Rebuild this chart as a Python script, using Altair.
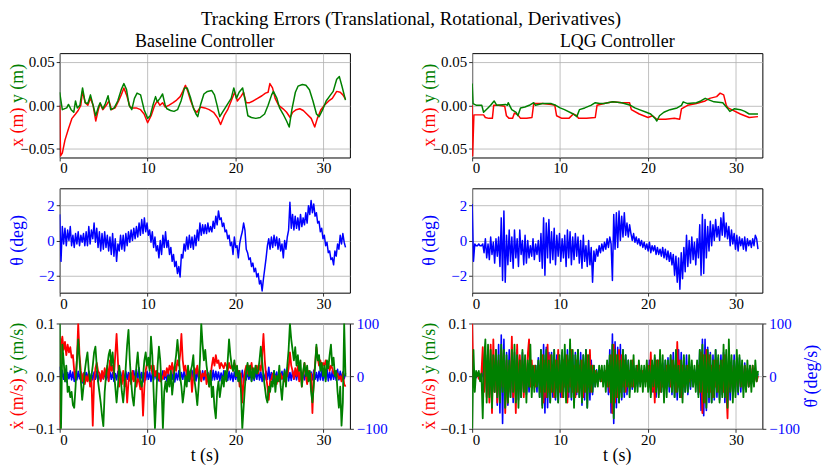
import altair as alt
import numpy as np
import pandas as pd

# ---------------- data ----------------
# Top row: (t [s], error [m])
XB = [(0,0.0),(0.1,-0.058),(0.3,-0.055),(0.6,-0.04),(1.0,-0.027),(1.4,-0.015),(1.8,-0.01),(2.1,-0.006),
      (2.4,0.0),(2.6,0.016),(2.9,0.003),(3.2,0.0),(3.5,0.008),(3.8,0.0),(4.1,-0.018),(4.4,-0.005),(4.6,0.002),
      (4.9,-0.005),(5.3,0.0),(5.6,0.005),(5.9,-0.005),(6.3,-0.003),(6.7,0.005),(7.0,0.012),(7.3,0.02),(7.6,0.012),
      (8.0,-0.002),(8.3,-0.003),(8.7,-0.003),(9.2,-0.005),(9.6,-0.01),(10.0,-0.02),(10.4,-0.012),(10.8,0.0),
      (11.1,0.005),(11.4,0.0),(11.7,0.003),(12.0,-0.002),(12.4,0.0),(12.9,0.003),(13.3,0.006),(13.7,0.01),
      (14.0,0.016),(14.3,0.023),(14.6,0.015),(14.9,0.005),(15.3,-0.005),(15.6,-0.008),(16.0,-0.002),(16.5,-0.003),
      (17.0,-0.005),(17.5,-0.008),(18.0,-0.015),(18.3,-0.022),(18.7,-0.012),(19.1,-0.005),(19.5,0.005),(19.9,0.015),
      (20.2,0.005),(20.6,0.01),(20.9,0.015),(21.2,0.003),(21.6,0.003),(22.0,0.005),(22.5,0.008),(23.0,0.011),
      (23.4,0.014),(23.7,0.015),(23.9,0.025),(24.2,0.02),(24.5,0.008),(24.9,0.0),(25.4,-0.004),(25.8,-0.008),
      (26.2,-0.014),(26.5,-0.008),(26.9,-0.005),(27.3,-0.004),(27.7,-0.006),(28.1,-0.01),(28.6,-0.015),(29.0,-0.025),
      (29.3,-0.015),(29.7,-0.005),(30.1,0.0),(30.6,0.005),(31.0,0.008),(31.5,0.016),(31.9,0.015),(32.2,0.012),(32.5,0.007)]
YB = [(0,0.015),(0.3,-0.005),(0.8,-0.003),(1.0,0.001),(1.3,-0.005),(1.6,-0.008),(1.8,0.005),(2.0,-0.003),(2.3,0.0),
      (2.6,0.02),(2.9,0.003),(3.2,0.002),(3.5,0.012),(3.8,0.0),(4.1,-0.012),(4.4,-0.002),(4.6,0.003),(4.9,-0.004),
      (5.2,0.002),(5.5,0.011),(5.8,-0.005),(6.2,-0.003),(6.6,0.005),(7.0,0.018),(7.3,0.025),(7.6,0.018),(7.9,0.0),
      (8.2,-0.005),(8.5,0.008),(8.8,0.014),(9.2,0.012),(9.6,-0.005),(10.0,-0.015),(10.3,-0.012),(10.6,0.0),(10.9,0.01),
      (11.1,0.004),(11.4,0.008),(11.7,0.013),(12.0,0.0),(12.2,-0.004),(12.6,-0.006),(13.0,-0.007),(13.4,-0.005),
      (13.8,0.005),(14.2,0.02),(14.5,0.02),(14.9,0.008),(15.2,-0.003),(15.5,-0.01),(15.7,-0.013),(16.0,0.0),(16.4,0.013),
      (16.8,0.016),(17.3,0.017),(17.6,0.012),(17.9,0.0),(18.2,-0.013),(18.5,-0.008),(19.0,0.0),(19.5,0.008),(19.8,0.02),
      (20.1,0.008),(20.4,0.015),(20.8,0.02),(21.1,0.005),(21.4,-0.012),(21.8,-0.014),(22.3,-0.015),(22.8,-0.014),
      (23.3,-0.01),(23.7,0.0),(24.1,0.012),(24.3,0.016),(24.7,0.008),(25.0,-0.003),(25.4,-0.01),(25.8,-0.018),
      (26.1,-0.025),(26.4,-0.005),(26.8,0.015),(27.1,0.022),(27.6,0.024),(28.0,0.023),(28.4,0.018),(28.8,0.005),
      (29.2,-0.01),(29.5,-0.013),(29.9,-0.005),(30.3,0.005),(30.8,0.012),(31.1,0.016),(31.5,0.03),(31.8,0.033),
      (32.1,0.022),(32.5,0.006)]
XL = [(0,0.0),(0.05,-0.058),(0.2,-0.011),(0.8,-0.011),(1.3,-0.011),(1.5,-0.014),(1.9,-0.015),(2.3,-0.015),(2.45,0.0),
      (3.0,0.0),(3.7,-0.001),(3.9,-0.012),(4.2,-0.015),(4.6,-0.015),(4.8,-0.009),(5.2,-0.011),(5.5,-0.015),(6.2,-0.015),
      (6.8,-0.014),(7.0,0.002),(8.0,0.002),(9.0,0.001),(9.4,0.0),(9.6,-0.012),(10.2,-0.015),(11.0,-0.015),(11.5,-0.01),
      (11.9,-0.012),(12.1,-0.015),(13.0,-0.015),(14.0,-0.014),(14.2,0.0),(15.0,0.002),(16.0,0.004),(17.0,0.003),
      (17.9,0.003),(18.1,-0.005),(19.0,-0.01),(20.0,-0.014),(20.5,-0.012),(21.0,-0.016),(22.0,-0.016),(23.0,-0.015),
      (23.6,-0.016),(23.8,-0.004),(24.5,0.0),(25.5,0.002),(26.5,0.005),(27.0,0.008),(27.8,0.01),(28.2,0.014),
      (28.6,0.012),(28.9,0.0),(29.1,-0.003),(29.5,-0.005),(30.5,-0.01),(31.5,-0.014),(32.5,-0.013)]
YL = [(0,0.025),(0.1,0.002),(0.5,0.0),(1.1,0.0),(1.3,-0.008),(1.8,-0.003),(2.1,0.0),(2.5,0.005),(2.8,0.0),(3.8,0.001),
      (4.0,0.0),(4.1,0.003),(4.5,-0.005),(5.0,-0.008),(5.2,-0.012),(5.5,-0.003),(6.0,-0.002),(6.5,0.0),(7.0,0.003),
      (7.2,0.0),(8.0,0.002),(9.0,0.002),(9.5,0.0),(10.0,-0.003),(10.5,-0.005),(11.5,-0.01),(11.9,-0.013),(12.2,-0.005),
      (12.8,-0.003),(13.5,0.0),(14.0,0.003),(14.5,0.002),(15.0,0.002),(16.0,0.004),(17.0,0.003),(18.0,0.0),
      (18.5,-0.003),(19.0,-0.005),(19.8,-0.008),(20.3,-0.01),(20.8,-0.015),(21.0,-0.018),(21.3,-0.012),(21.8,-0.008),
      (22.5,-0.005),(23.3,-0.003),(23.8,0.0),(24.0,0.004),(24.5,0.002),(25.5,0.003),(26.0,0.005),(26.5,0.008),
      (27.0,0.006),(27.5,0.004),(28.5,0.003),(29.0,-0.003),(29.3,-0.007),(29.8,-0.004),(30.5,-0.005),(31.0,-0.007),
      (31.5,-0.01),(32.5,-0.01)]

# Middle row: theta error [deg], sampled evenly over 0..32.5 s
THB = [1.5,-1.2,0.8,-0.2,0.7,-0.3,0.6,0.0,0.8,-0.3,
       0.3,-0.4,0.4,-0.2,0.5,-0.3,0.3,-0.1,0.4,-0.3,
       0.5,-0.3,0.8,-0.2,0.6,0.1,1.0,-0.1,0.7,-0.4,
       0.5,-0.6,0.4,-0.5,0.5,-0.4,0.3,-0.6,0.2,-0.8,
       0.4,-0.9,0.1,-1.2,-0.2,-0.6,0.3,-0.5,0.3,-0.6,
       0.4,-0.3,0.5,-0.1,0.6,0.0,0.7,0.1,0.8,0.2,
       1.0,0.3,1.2,0.4,1.3,0.5,1.0,0.3,0.6,-0.1,
       0.5,-0.4,0.2,-0.6,-0.3,-1.0,0.0,-0.8,0.3,-0.4,
       0.5,-0.4,0.0,-0.8,-0.4,-1.2,-0.8,-1.5,-1.2,-1.9,
       -1.5,-2.1,-0.8,-1.0,-0.2,-0.6,0.2,-0.5,0.3,-0.4,
       0.2,-0.5,0.3,-0.3,0.6,0.0,1.0,0.3,0.9,0.4,
       0.9,0.4,1.0,0.5,0.8,0.5,1.1,0.7,1.4,0.9,
       1.7,1.2,1.3,0.8,1.0,0.5,0.6,0.1,0.3,-0.3,
       -0.1,-0.8,0.2,-0.4,-0.3,-1.0,-0.2,0.2,0.5,1.0,
       0.6,-0.5,-0.7,-1.1,-1.0,-1.5,-1.3,-1.8,-1.6,-2.1,
       -1.9,-2.5,-2.3,-2.9,-2.2,-1.6,-1.0,-0.3,0.1,-0.5,
       0.2,-0.4,0.3,-0.3,0.2,-0.5,0.1,-0.6,-0.2,-1.0,
       0.0,-0.5,0.2,0.6,2.2,0.7,1.5,0.6,1.4,0.7,
       1.3,0.6,1.5,0.8,1.3,0.9,1.6,1.0,2.0,1.5,
       2.3,1.6,2.1,1.4,1.6,1.0,1.1,0.5,0.7,0.1,
       0.3,-0.3,-0.1,-0.7,-0.6,-1.1,-1.0,-1.4,-0.6,-0.9,
       -0.2,-0.5,0.3,-0.2,0.4,-0.1,-0.4]
THL = [2.1,-1.2,-0.2,-0.3,-0.3,-0.2,-0.3,-0.3,-0.2,-0.7,
       0.1,-1.0,-0.2,-1.1,0.2,-0.8,-0.1,-1.3,0.1,-0.9,
       0.2,-1.5,1.3,-2.3,1.7,-2.4,0.3,-1.4,0.6,-1.2,
       0.2,-1.6,0.6,-1.0,0.1,-1.5,0.6,-0.8,0.0,-1.4,
       0.3,-1.3,0.0,-1.0,-0.3,-0.9,0.1,-1.1,-0.2,-0.8,
       0.0,-1.2,0.4,-1.6,1.3,-2.0,1.0,-1.0,1.2,-1.3,
       0.5,-1.1,0.7,-1.4,0.3,-0.9,0.4,-1.2,0.1,-1.0,
       0.3,-1.5,0.6,-1.0,0.5,-1.4,0.2,-1.1,0.4,-0.9,
       0.2,-1.3,0.0,-1.6,0.3,-1.2,-0.3,-1.5,0.0,-1.4,
       -0.4,-2.4,-0.6,-1.2,-0.5,-0.9,-0.3,-0.7,-0.2,-0.6,
       -0.1,-0.5,0.1,-0.4,0.2,-0.2,-2.3,1.5,-0.5,1.6,
       -0.4,1.7,0.0,1.4,0.2,1.6,0.3,1.0,0.2,0.9,
       0.4,0.0,0.4,-0.1,0.2,-0.2,0.1,-0.3,0.0,-0.4,
       -0.1,-0.5,-0.2,-0.6,-0.1,-0.7,-0.3,-0.6,-0.3,-0.8,
       -0.4,-0.8,-0.5,-0.9,-0.4,-1.0,-0.5,-1.1,-0.6,-1.2,
       -0.7,-1.4,-0.8,-2.0,-0.9,-2.4,-1.0,-2.8,-0.7,-2.2,
       -0.4,-1.8,0.3,-1.5,0.0,-1.3,0.2,-1.1,-0.1,-1.4,
       0.1,-1.0,0.9,-2.0,1.5,-1.9,1.2,-1.0,0.8,-0.6,
       1.1,-0.3,0.9,0.0,1.2,0.2,0.8,0.0,1.3,0.3,
       1.6,0.2,1.0,0.1,0.8,-0.3,0.6,-0.2,0.4,-0.5,
       0.3,-0.6,0.2,-0.3,0.1,-0.5,0.2,-0.6,0.1,-0.3,
       0.0,-0.4,0.1,-0.3,0.3,0.1,-0.5]

# Bottom row: x-dot, y-dot [m/s] and theta-dot [deg/s], sampled evenly over 0..32.5 s
XDB = [-0.1,0.06,0.075,0.05,0.065,0.04,0.06,0.045,0.055,0.035,
       0.04,0.01,-0.005,0.03,0.1,0.04,0.01,-0.01,0.005,-0.015,
       0.0,-0.01,0.005,-0.02,-0.005,-0.094,-0.01,0.015,0.025,0.01,
       0.005,-0.01,0.01,-0.005,0.015,0.0,0.02,-0.01,0.03,0.01,
       0.02,0.0,0.04,0.08,0.03,-0.02,0.0,-0.015,0.01,-0.02,
       -0.005,-0.05,-0.01,0.005,-0.015,0.01,-0.01,0.0,-0.02,-0.005,
       -0.01,-0.025,-0.01,-0.075,-0.02,0.01,0.025,0.03,0.015,0.02,
       0.005,0.02,0.0,0.01,-0.005,0.005,-0.01,0.0,-0.005,0.01,
       0.0,0.015,0.005,0.02,0.01,0.025,0.005,0.02,0.01,0.03,
       0.02,0.04,0.08,0.03,0.01,0.02,0.0,0.015,-0.005,0.01,
       -0.03,0.0,0.015,0.005,0.02,0.0,0.01,-0.01,0.005,0.0,
       0.01,-0.015,0.005,-0.02,0.0,0.02,0.035,0.02,0.04,0.025,
       0.03,0.015,0.025,0.02,0.015,0.025,0.02,0.01,0.025,0.015,
       0.02,0.01,0.025,0.015,0.0,0.01,-0.02,0.005,-0.05,-0.01,
       0.01,0.02,0.005,0.02,0.01,0.025,0.005,0.015,0.01,0.02,
       0.005,0.02,0.01,0.04,0.08,0.03,0.0,-0.02,-0.045,-0.01,
       -0.005,0.005,-0.01,0.0,-0.015,0.0,-0.01,0.005,-0.005,0.0,
       -0.01,0.005,0.0,0.015,0.045,0.02,0.01,-0.005,0.015,0.0,
       0.02,-0.01,0.01,-0.02,0.005,0.025,0.0,-0.015,0.01,-0.005,
       0.005,-0.07,0.0,0.02,0.055,0.035,0.02,0.03,0.015,0.025,
       0.02,0.03,0.015,0.025,0.01,0.02,0.015,0.005,0.01,0.0,
       0.005,-0.005,0.0,-0.01,0.005,-0.015,-0.02]
YDB = [0.1,-0.1,0.06,0.03,-0.01,0.02,-0.03,-0.02,-0.04,-0.03,
       -0.055,-0.06,-0.02,0.03,0.07,0.03,-0.01,-0.045,-0.02,0.01,
       0.03,0.045,0.01,-0.01,0.0,0.02,0.045,0.056,0.02,-0.01,
       -0.03,-0.05,-0.075,-0.095,-0.03,0.0,0.02,0.04,0.05,0.02,
       0.045,0.01,-0.02,-0.05,-0.02,0.02,0.0,-0.03,-0.05,-0.02,
       0.02,0.06,0.088,0.03,-0.01,-0.04,-0.056,-0.02,0.02,0.045,
       0.01,-0.01,-0.02,0.0,0.03,0.045,0.02,0.035,0.01,0.075,
       0.04,-0.03,-0.1,-0.04,0.02,0.056,0.03,-0.02,-0.1,-0.03,
       -0.01,-0.03,0.0,-0.02,0.01,-0.035,-0.01,0.02,0.04,0.069,
       0.04,0.0,-0.02,-0.05,-0.03,0.0,-0.02,0.02,-0.01,0.01,
       0.02,0.04,-0.01,-0.03,-0.055,-0.02,0.03,0.1,0.06,0.03,
       0.05,0.02,0.0,-0.02,0.01,-0.04,-0.02,-0.06,-0.08,-0.03,
       -0.01,-0.04,-0.02,0.0,-0.02,0.01,-0.01,0.03,0.07,0.04,
       0.02,0.01,0.03,0.0,0.02,-0.01,0.01,-0.03,-0.1,-0.06,
       -0.02,0.01,0.025,0.0,0.02,-0.01,0.015,-0.005,0.02,0.005,
       0.01,0.03,0.056,0.03,0.0,-0.02,-0.04,-0.05,-0.02,-0.03,
       -0.01,-0.02,0.01,-0.03,0.0,-0.01,0.02,-0.02,-0.045,-0.01,
       0.01,-0.02,0.02,0.05,0.1,0.07,0.05,0.03,0.055,0.02,
       0.04,0.01,0.03,-0.02,0.01,0.025,0.0,0.02,-0.01,0.01,
       -0.03,-0.05,-0.02,0.02,0.06,0.03,0.04,0.01,0.025,0.0,
       0.02,-0.01,0.03,0.015,0.04,0.06,0.02,0.035,0.0,0.01,
       -0.03,-0.06,-0.02,-0.094,-0.05,0.1,0.0]
TDB = [18,-9,11,-6,9,-11,7,-5,10,-7,
       8,-10,6,-7,9,-5,7,-13,6,-8,
       7,-6,10,-9,5,-7,8,-6,9,-10,
       6,-8,7,-5,9,-7,6,-9,8,-6,
       7,-10,5,-7,9,-6,8,-8,6,-7,
       9,-6,7,-9,6,-5,10,-7,13,-8,
       16,-9,7,-11,6,-7,9,-6,8,-10,
       6,-7,9,-5,7,-9,6,-8,10,-6,
       7,-10,5,-7,8,-6,9,-11,6,-7,
       10,-8,7,-6,9,-7,6,-10,8,-5,
       11,-7,8,-9,13,-6,7,-8,10,-7,
       9,-6,7,-10,6,-8,11,-7,9,-6,
       8,-9,6,-7,10,-6,7,-8,9,-7,
       6,-10,8,-6,7,-9,5,-7,11,-13,
       8,-7,10,-6,7,-9,6,-8,9,-6,
       15,-7,8,-10,6,-7,9,-6,17,-9,
       7,-8,10,-6,8,-9,6,-7,9,-6,
       13,-7,16,-9,7,-8,10,-6,8,-7,
       9,-6,7,-9,6,-7,10,-8,7,-6,
       8,-7,11,-6,7,-9,9,-7,13,-8,
       7,-6,15,-9,8,-7,10,-6,7,-8,
       13,-7,9,-6,8,-5,6]
XDL = [0.1,-0.02,0.005,0.0,0.005,-0.005,0.0,0.005,0.055,-0.03,
       0.04,-0.04,0.03,-0.05,0.06,-0.07,0.07,-0.03,0.04,-0.05,
       0.03,-0.04,0.05,-0.02,0.04,-0.07,0.03,-0.05,0.02,-0.03,
       0.075,-0.04,0.03,-0.07,0.06,-0.03,0.04,-0.02,0.03,-0.04,
       0.02,-0.03,0.04,0.07,-0.02,0.03,-0.01,0.02,-0.02,0.01,
       -0.01,0.02,-0.03,0.04,-0.05,0.03,-0.04,0.06,-0.03,0.04,
       -0.03,0.02,-0.04,0.03,-0.02,0.05,-0.03,0.02,-0.04,0.03,
       -0.02,0.04,-0.05,0.03,-0.02,0.05,-0.03,0.02,-0.04,0.03,
       -0.03,0.02,-0.02,0.03,-0.04,0.02,-0.03,0.04,-0.02,0.05,
       -0.03,0.02,-0.01,0.01,-0.01,0.005,-0.005,0.01,-0.01,0.005,
       -0.01,0.01,-0.02,0.02,-0.03,0.04,-0.07,0.06,-0.05,0.04,
       -0.04,0.05,-0.03,0.04,-0.02,0.03,-0.03,0.02,-0.02,0.01,
       -0.02,0.03,-0.02,0.01,-0.01,0.02,-0.01,0.01,-0.005,0.01,
       -0.01,0.005,-0.01,0.02,-0.02,0.045,-0.03,0.02,-0.05,0.03,
       -0.02,0.03,-0.03,0.02,-0.02,0.01,-0.02,0.02,-0.01,0.02,
       -0.02,0.03,-0.01,0.02,-0.03,0.065,-0.02,0.03,-0.04,0.02,
       -0.02,0.01,-0.01,0.02,-0.01,0.01,-0.005,0.01,-0.01,0.005,
       -0.01,0.02,-0.03,0.045,-0.07,0.04,-0.05,0.05,-0.03,0.04,
       -0.03,0.02,-0.04,0.03,-0.02,0.03,-0.03,0.02,-0.02,0.03,
       -0.03,0.04,-0.02,-0.08,0.03,-0.02,0.02,-0.03,0.01,-0.02,
       0.02,-0.01,0.02,-0.02,0.01,-0.02,0.02,-0.01,0.01,-0.02,
       0.01,-0.01,0.02,-0.01,0.01,-0.01,0.0]
YDL = [-0.1,0.05,-0.03,0.01,0.0,0.01,-0.01,0.005,-0.08,0.03,
       0.07,-0.05,0.06,-0.04,0.05,-0.06,0.04,-0.03,0.05,-0.04,
       0.04,-0.05,0.06,-0.03,0.05,-0.06,0.04,-0.05,0.03,-0.04,
       0.05,-0.03,0.06,-0.05,0.04,-0.06,0.03,-0.04,0.05,-0.03,
       0.04,-0.05,0.03,-0.02,0.06,-0.04,0.02,-0.03,0.02,-0.02,
       0.03,-0.04,0.05,-0.06,0.04,-0.03,0.05,-0.04,0.03,-0.05,
       0.04,-0.03,0.05,-0.04,0.03,-0.05,0.04,-0.03,0.05,-0.04,
       0.06,-0.05,0.04,-0.03,0.07,-0.04,0.05,-0.06,0.04,-0.03,
       0.05,-0.04,0.03,-0.05,0.04,-0.03,0.05,-0.06,0.04,-0.03,
       0.02,-0.03,0.02,-0.02,0.01,-0.02,0.02,-0.01,0.02,-0.02,
       0.02,-0.03,0.03,-0.02,0.04,-0.05,0.06,-0.08,0.05,-0.04,
       0.04,-0.05,0.03,-0.04,0.05,-0.03,0.04,-0.02,0.03,-0.04,
       0.03,-0.02,0.04,-0.03,0.02,-0.03,0.03,-0.02,0.02,-0.03,
       0.02,-0.02,0.03,-0.03,0.02,-0.04,0.03,-0.02,0.04,-0.03,
       0.03,-0.04,0.05,-0.03,0.04,-0.05,0.03,-0.04,0.03,-0.02,
       0.04,-0.03,0.03,-0.04,0.05,-0.03,0.02,-0.04,0.03,-0.05,
       0.04,-0.03,0.02,-0.03,0.04,-0.02,0.03,-0.02,0.02,-0.03,
       0.03,-0.04,0.05,-0.03,0.06,-0.05,0.04,-0.06,0.05,-0.04,
       0.04,-0.05,0.03,-0.04,0.05,-0.03,0.04,-0.05,0.03,-0.04,
       0.06,-0.04,0.05,-0.06,0.07,-0.03,0.04,-0.05,0.03,-0.04,
       0.05,-0.03,0.04,-0.02,0.03,-0.04,0.02,-0.03,0.03,-0.02,
       0.02,-0.03,0.02,-0.02,0.03,-0.01,0.01]
TDL = [40,-20,5,-3,2,-2,3,-2,10,-15,
       35,-30,45,-35,30,-45,40,-30,50,-55,
       60,-70,78,-90,70,-60,45,-55,50,-40,
       40,-50,45,-30,50,-45,30,-40,45,-30,
       30,-35,25,-30,15,-20,15,-15,20,-30,
       35,-40,50,-55,60,-70,55,-60,45,-50,
       45,-40,50,-45,40,-50,30,-40,45,-30,
       40,-45,50,-40,55,-45,40,-50,45,-35,
       50,-40,45,-55,40,-45,50,-60,30,-45,
       30,-35,20,-20,12,-12,8,-10,6,-8,
       10,-12,25,-35,50,-70,80,-90,65,-60,
       55,-50,60,-45,50,-40,40,-35,30,-30,
       20,-25,20,-15,15,-20,12,-15,10,-12,
       12,-10,20,-18,30,-35,25,-30,35,-40,
       30,-35,35,-30,25,-30,30,-25,35,-30,
       40,-35,45,-40,35,-45,50,-40,45,-35,
       35,-30,40,-35,20,-25,15,-20,12,-15,
       25,-35,50,-65,70,-75,70,-65,55,-50,
       45,-50,40,-45,50,-40,35,-45,40,-35,
       45,-50,40,-40,35,-45,30,-35,40,-30,
       30,-35,35,-30,20,-25,25,-20,15,-20,
       20,-15,15,-12,10,-8,5]

X_TICKS = [0, 10, 20, 30]
MAIN_TITLE = "Tracking Errors (Translational, Rotational, Derivatives)"
COL_TITLES = ["Baseline Controller", "LQG Controller"]

# ---------------- styling ----------------
SERIF = "Liberation Serif"
RED, GREEN, BLUE = "#ff0000", "#008000", "#0000ff"
W = 292
H = [105, 105, 106]
ONE = pd.DataFrame({"k": [0]})

XSCALE = alt.Scale(domain=[0, 33], nice=False, zero=False)
XAX = alt.Axis(values=X_TICKS, format="d", title=None, grid=True, labelPadding=0)


def pairs_df(p):
    return pd.DataFrame(p, columns=["t", "v"])


def grid_df(vals):
    return pd.DataFrame({"t": np.linspace(0, 32.5, len(vals)), "v": vals})


def line(df, color, ydom, yaxis, sw=1.5):
    return alt.Chart(df).mark_line(color=color, strokeWidth=sw, strokeJoin="round", clip=True).encode(
        x=alt.X("t:Q", scale=XSCALE, axis=XAX),
        y=alt.Y("v:Q", scale=alt.Scale(domain=ydom, nice=False, zero=False), axis=yaxis),
    )


def vtext(text, color, x, y):
    return alt.Chart(ONE).mark_text(text=text, color=color, angle=270, font=SERIF, fontSize=18,
                                    align="center", baseline="middle").encode(x=alt.value(x), y=alt.value(y))


def htext(text, x, y, size=18):
    return alt.Chart(ONE).mark_text(text=text, color="black", font=SERIF, fontSize=size,
                                    align="center", baseline="alphabetic").encode(x=alt.value(x), y=alt.value(y))


AX1 = alt.Axis(orient="left", values=[-0.05, 0, 0.05], format=".2f", title=None, grid=True, labelPadding=2)
AX2 = alt.Axis(orient="left", values=[-2, 0, 2], format="d", title=None, grid=True, labelPadding=2, labelColor=BLUE)
AX3L = alt.Axis(orient="left", values=[-0.1, 0, 0.1], format=".1f", title=None, grid=True, labelPadding=2)
AX3R = alt.Axis(orient="right", values=[-100, 0, 100], format="d", title=None, grid=False, labelPadding=3,
                labelColor=BLUE, labelAlign="left")


def top_panel(xs, ys, col_title, main):
    layers = [
        line(pairs_df(xs), RED, [-0.06, 0.06], AX1),
        line(pairs_df(ys), GREEN, [-0.06, 0.06], AX1),
        vtext("x (m)", RED, -42, H[0] / 2 + 22),
        vtext("y (m)", GREEN, -42, H[0] / 2 - 22),
        htext(col_title, W / 2, -6),
    ]
    if main:
        layers.append(htext(MAIN_TITLE, W + 61.5, -28, 19))
    return alt.layer(*layers).properties(width=W, height=H[0])


def mid_panel(th):
    return alt.layer(
        line(grid_df(th), BLUE, [-3, 3], AX2, 1.5),
        vtext("θ (deg)", BLUE, -42, H[1] / 2),
    ).properties(width=W, height=H[1])


def bottom_panel(xd, yd, td, right_title):
    blue = line(grid_df(td), BLUE, [-100, 100], AX3R, 1.6)
    inner = [
        line(grid_df(xd), RED, [-0.1, 0.1], AX3L, 1.8),
        line(grid_df(yd), GREEN, [-0.1, 0.1], AX3L, 1.8),
        vtext("ẋ (m/s)", RED, -42, H[2] / 2 + 28),
        vtext("ẏ (m/s)", GREEN, -42, H[2] / 2 - 28),
        htext("t (s)", W / 2, H[2] + 32),
    ]
    if right_title:
        inner.append(vtext("θ̇ (deg/s)", BLUE, W + 50, H[2] / 2))
    return alt.layer(blue, alt.layer(*inner)).resolve_scale(y="independent").properties(width=W, height=H[2])


chart = alt.concat(
    top_panel(XB, YB, COL_TITLES[0], True), top_panel(XL, YL, COL_TITLES[1], False),
    mid_panel(THB), mid_panel(THL),
    bottom_panel(XDB, YDB, TDB, False), bottom_panel(XDL, YDL, TDL, True),
    columns=2, spacing={"row": 31, "column": 123}, bounds="flush",
).properties(
    padding={"left": 0, "top": 0, "right": 0, "bottom": 0}
).configure_view(
    stroke="black", strokeWidth=1
).configure_axis(
    labelFont=SERIF, labelFontSize=15, labelColor="black", tickColor="black", tickSize=3.5,
    tickWidth=0.8, domain=False, gridColor="#b0b0b0", gridWidth=0.8
).configure_text(font=SERIF)

chart.save("out.html", embed_options={"renderer": "svg", "actions": False})
